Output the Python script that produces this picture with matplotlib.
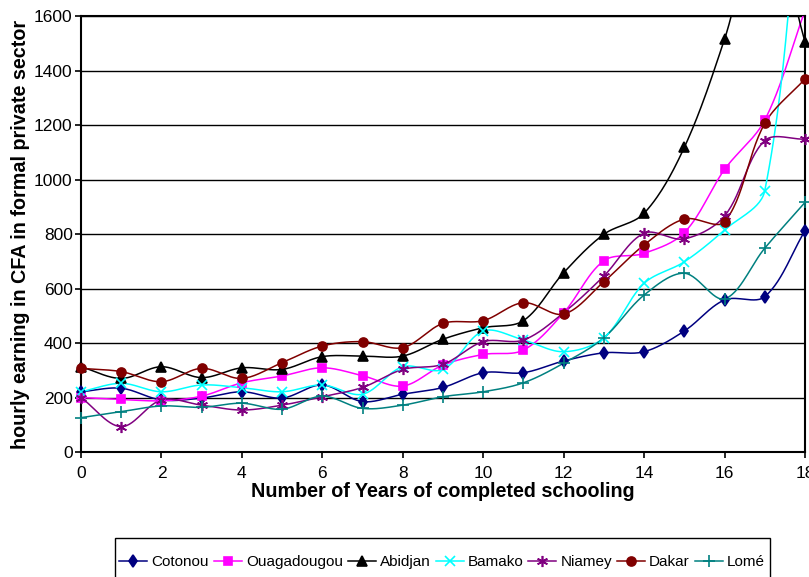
import numpy as np
import matplotlib.pyplot as plt
from matplotlib.lines import Line2D
from matplotlib.patches import Rectangle

plt.rcParams['font.family'] = ['Liberation Sans', 'DejaVu Sans']

years = np.arange(0, 19)

cotonou = [221, 234, 191, 198, 221, 198, 246, 185, 212, 237, 291, 291, 334, 364, 368, 444, 558, 570, 812]
ouaga = [200, 193, 188, 205, 254, 279, 309, 280, 242, 319, 358, 374, 511, 702, 729, 805, 1037, 1218, 1620]
abidjan = [313, 270, 313, 273, 309, 303, 350, 352, 352, 414, 456, 482, 658, 799, 876, 1118, 1515, 2000, 1506]
bamako = [221, 252, 221, 246, 236, 221, 246, 212, 313, 303, 444, 411, 368, 419, 619, 698, 815, 959, 2300]
niamey = [200, 93, 191, 172, 154, 172, 203, 237, 303, 322, 405, 411, 511, 646, 803, 782, 866, 1143, 1148]
dakar = [307, 295, 258, 307, 270, 328, 389, 405, 383, 472, 482, 548, 506, 625, 760, 855, 845, 1206, 1369]
lome = [126, 148, 169, 164, 179, 157, 205, 160, 172, 203, 221, 254, 326, 419, 576, 656, 562, 748, 916]

cities = ['Cotonou', 'Ouagadougou', 'Abidjan', 'Bamako', 'Niamey', 'Dakar', 'Lomé']
series = [cotonou, ouaga, abidjan, bamako, niamey, dakar, lome]
colors = ['#000080', '#FF00FF', '#000000', '#00FFFF', '#800080', '#800000', '#008080']
markers = ['d', 's', '^', 'x', (6, 2, 0), 'o', '+']
msizes = [6, 6, 6.5, 7, 8, 6.5, 8]

YMAX = 1600
# screen scale of one x unit and one y unit, so the curve is smoothed in pixel space
XS, YS = 724 / 18, 436 / YMAX


def smooth(x, y, n=30):
    # bezier through the points, tangents weighted by neighbouring segment lengths
    p = np.column_stack([np.asarray(x) * XS, np.asarray(y) * YS]).astype(float)
    p = np.vstack([p[0], p, p[-1]])
    t = np.linspace(0, 1, n)[:, None]
    out = []
    for i in range(1, len(p) - 2):
        p0, p1, p2, p3 = p[i - 1], p[i], p[i + 1], p[i + 2]
        d01 = np.hypot(*(p1 - p0))
        d12 = np.hypot(*(p2 - p1))
        d23 = np.hypot(*(p3 - p2))
        c1 = p1 + (p2 - p0) / 3 * (d12 / (d01 + d12) if d01 + d12 > 0 else 0.5)
        c2 = p2 - (p3 - p1) / 3 * (d12 / (d12 + d23) if d12 + d23 > 0 else 0.5)
        seg = ((1 - t) ** 3) * p1 + 3 * ((1 - t) ** 2) * t * c1 + 3 * (1 - t) * t ** 2 * c2 + t ** 3 * p2
        out.append(seg if i == 1 else seg[1:])
    out = np.vstack(out)
    return out[:, 0] / XS, out[:, 1] / YS


fig = plt.figure(figsize=(8.09, 5.77), dpi=100)
ax = fig.add_axes([81 / 809, 1 - 452 / 577, 724 / 809, 436 / 577])

handles = []
for name, vals, c, m, ms in zip(cities, series, colors, markers, msizes):
    vals = np.asarray(vals)
    sx, sy = smooth(years, vals)
    ax.plot(sx, sy, color=c, lw=1.1, zorder=3)
    # markers off the top of the scale are not shown; the rest may overhang the frame
    keep = vals <= YMAX
    ax.plot(years[keep], vals[keep], ls='none', marker=m, color=c, ms=ms, mew=1.2,
            zorder=4, clip_on=False)
    handles.append(Line2D([], [], color=c, lw=1.1, marker=m, ms=ms, mew=1.2))

ax.set_xlim(0, 18)
ax.set_ylim(0, YMAX)
ax.set_xticks(np.arange(0, 19, 2))
ax.set_yticks(np.arange(0, YMAX + 1, 200))
ax.yaxis.grid(True, color='black', lw=1)
ax.set_axisbelow(True)
for s in ax.spines.values():
    s.set_linewidth(1.5)
ax.tick_params(labelsize=12.5, direction='out', length=4, width=1.2)
ax.tick_params(axis='x', pad=6)
ax.tick_params(axis='y', pad=2)

ax.set_xlabel('Number of Years of completed schooling', fontsize=14.2, fontweight='bold', labelpad=1)
ax.set_ylabel('hourly earning in CFA in formal private sector', fontsize=14.2, fontweight='bold', labelpad=3)

# legend box runs past the bottom edge of the figure
W, H = 809, 577
fig.patches.append(Rectangle((115 / W, -20 / H), 655 / W, (H - 538 + 20) / H,
                             transform=fig.transFigure, fill=False, edgecolor='black', lw=1))
fig.legend(handles, cities, loc='center', bbox_to_anchor=(442 / W, 1 - 562 / H),
           ncol=7, fontsize=11, frameon=False,
           handlelength=1.83, handletextpad=0.26, columnspacing=0.33, borderpad=0,
           borderaxespad=0)

fig.savefig('out.png', dpi=100)
